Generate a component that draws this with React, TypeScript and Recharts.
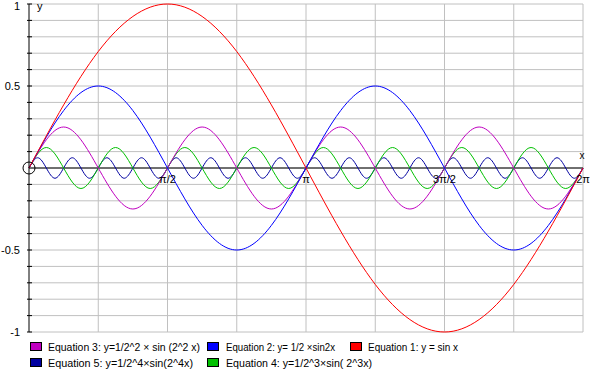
import React from 'react';
import { LineChart, Line, XAxis, YAxis, CartesianGrid, ReferenceLine, ReferenceDot } from 'recharts';

// x values are expressed in units of π
const xGridValues = [0.25, 0.5, 0.75, 1, 1.25, 1.5, 1.75, 2];
const xLabelValues = [0.5, 1, 1.5, 2];
const xLabels = ['π/2', 'π', '3π/2', '2π'];

const yTicks = [-1, -0.9, -0.8, -0.7, -0.6, -0.5, -0.4, -0.3, -0.2, -0.1, 0, 0.1, 0.2, 0.3, 0.4, 0.5, 0.6, 0.7, 0.8, 0.9, 1];
const yLabelValues = [-1, -0.5, 0.5, 1];
const yLabels = ['-1', '-0.5', '0.5', '1'];

// Equation 1: y = sin x, sampled every π/4
const eq1Values = [0, 0.71, 1, 0.71, 0, -0.71, -1, -0.71, 0];
const eq1Step = 0.25;
// Equation 2: y = 1/2 sin 2x, sampled every π/8
const eq2Values = [0, 0.35, 0.5, 0.35, 0, -0.35, -0.5, -0.35, 0, 0.35, 0.5, 0.35, 0, -0.35, -0.5, -0.35, 0];
const eq2Step = 0.125;
// Equation 3: y = 1/4 sin 4x, sampled every π/8
const eq3Values = [0, 0.25, 0, -0.25, 0, 0.25, 0, -0.25, 0, 0.25, 0, -0.25, 0, 0.25, 0, -0.25, 0];
const eq3Step = 0.125;
// Equation 4: y = 1/8 sin 8x, sampled every π/16
const eq4Values = [
  0, 0.125, 0, -0.125, 0, 0.125, 0, -0.125, 0, 0.125, 0, -0.125, 0, 0.125, 0, -0.125,
  0, 0.125, 0, -0.125, 0, 0.125, 0, -0.125, 0, 0.125, 0, -0.125, 0, 0.125, 0, -0.125, 0,
];
const eq4Step = 0.0625;
// Equation 5: y = 1/16 sin 16x, sampled every π/32
const eq5Values = [
  0, 0.0625, 0, -0.0625, 0, 0.0625, 0, -0.0625, 0, 0.0625, 0, -0.0625, 0, 0.0625, 0, -0.0625,
  0, 0.0625, 0, -0.0625, 0, 0.0625, 0, -0.0625, 0, 0.0625, 0, -0.0625, 0, 0.0625, 0, -0.0625,
  0, 0.0625, 0, -0.0625, 0, 0.0625, 0, -0.0625, 0, 0.0625, 0, -0.0625, 0, 0.0625, 0, -0.0625,
  0, 0.0625, 0, -0.0625, 0, 0.0625, 0, -0.0625, 0, 0.0625, 0, -0.0625, 0, 0.0625, 0, -0.0625, 0,
];
const eq5Step = 0.03125;

const seriesNames = [
  'Equation 1: y = sin x',
  'Equation 2: y= 1/2 ×sin2x',
  'Equation 3: y=1/2^2 × sin (2^2 x)',
  'Equation 4: y=1/2^3×sin( 2^3x)',
  'Equation 5: y=1/2^4×sin(2^4x)',
];

const COLORS = ['#ff0000', '#0000ff', '#c000c0', '#00c000', '#0000a0'];

const toSeries = (values: number[], step: number) => values.map((y, i) => ({ x: i * step, y }));

const series = [
  toSeries(eq1Values, eq1Step),
  toSeries(eq2Values, eq2Step),
  toSeries(eq3Values, eq3Step),
  toSeries(eq4Values, eq4Step),
  toSeries(eq5Values, eq5Step),
];

// legend layout (series index, swatch x, row, text x, text width)
const LEGEND_LAYOUT = [
  { s: 2, sx: 30, row: 0, tx: 48, tw: 152 },
  { s: 1, sx: 207, row: 0, tx: 226, tw: 109 },
  { s: 0, sx: 350, row: 0, tx: 368, tw: 90 },
  { s: 4, sx: 30, row: 1, tx: 48, tw: 145 },
  { s: 3, sx: 207, row: 1, tx: 226, tw: 146 },
];

const FONT = '"Liberation Sans", Arial, sans-serif';

const YTick = (props: any) => {
  const { x, y, payload } = props;
  const v = payload.value;
  if (v === 0) return <g />;
  const idx = yLabelValues.indexOf(v);
  return (
    <g>
      <line x1={x - 2} x2={x + 3} y1={y} y2={y} stroke="#000" strokeWidth={1} />
      {idx >= 0 && (
        <text x={x - 9} y={Math.max(y + 4, 10)} textAnchor="end" fontSize={11} fill="#000" fontFamily={FONT}>
          {yLabels[idx]}
        </text>
      )}
    </g>
  );
};

export default function App() {
  return (
    <div style={{ position: 'absolute', left: 0, top: 0, width: 591, height: 370, background: '#fff' }}>
      <LineChart width={591} height={370} margin={{ top: 4, right: 8, bottom: 38, left: 0 }}>
        <CartesianGrid horizontal vertical={false} stroke="#c0c0c0" />
        <XAxis type="number" dataKey="x" domain={[0, 2]} hide allowDuplicatedCategory={false} />
        <YAxis
          type="number"
          domain={[-1, 1]}
          ticks={yTicks}
          interval={0}
          width={29}
          tickSize={0}
          tickMargin={0}
          tickLine={false}
          axisLine={{ stroke: '#000' }}
          tick={<YTick />}
        />
        {xGridValues.map((v) => (
          <ReferenceLine key={'g' + v} x={v} stroke="#c0c0c0" ifOverflow="visible" />
        ))}
        <ReferenceLine y={0} stroke="#000" />
        {[4, 3, 2, 1, 0].map((i) => (
          <Line
            key={i}
            data={series[i]}
            dataKey="y"
            name={seriesNames[i]}
            type="natural"
            stroke={COLORS[i]}
            strokeWidth={1}
            dot={false}
            activeDot={false}
            isAnimationActive={false}
          />
        ))}
        <ReferenceDot x={0} y={0} r={6} fill="none" stroke="#000" ifOverflow="visible" />
        {xLabelValues.map((v, i) => (
          <ReferenceDot
            key={'l' + v}
            x={v}
            y={0}
            r={0}
            ifOverflow="visible"
            shape={(p: any) => (
              <text x={p.cx} y={p.cy + 15} textAnchor="middle" fontSize={11} fill="#000" fontFamily={FONT}>
                {xLabels[i]}
              </text>
            )}
          />
        ))}
        <ReferenceDot
          x={2}
          y={0}
          r={0}
          ifOverflow="visible"
          shape={(p: any) => (
            <text x={p.cx - 1} y={p.cy - 9} textAnchor="middle" fontSize={10} fill="#000" fontFamily={FONT}>
              x
            </text>
          )}
        />
        <ReferenceDot
          x={0}
          y={1}
          r={0}
          ifOverflow="visible"
          shape={(p: any) => (
            <text x={p.cx + 8} y={p.cy + 6} fontSize={11} fill="#000" fontFamily={FONT}>
              y
            </text>
          )}
        />
      </LineChart>
      <svg
        width={591}
        height={370}
        style={{ position: 'absolute', left: 0, top: 0, pointerEvents: 'none' }}
      >
        {LEGEND_LAYOUT.map((it) => (
          <g key={it.s}>
            <rect
              x={it.sx + 0.5}
              y={342.5 + it.row * 16}
              width={11}
              height={8}
              fill={COLORS[it.s]}
              stroke="#000"
              strokeWidth={1}
            />
            <text
              x={it.tx}
              y={351 + it.row * 16}
              fontSize={11}
              fill="#000"
              fontFamily={FONT}
              textLength={it.tw}
              lengthAdjust="spacingAndGlyphs"
            >
              {seriesNames[it.s]}
            </text>
          </g>
        ))}
      </svg>
    </div>
  );
}
